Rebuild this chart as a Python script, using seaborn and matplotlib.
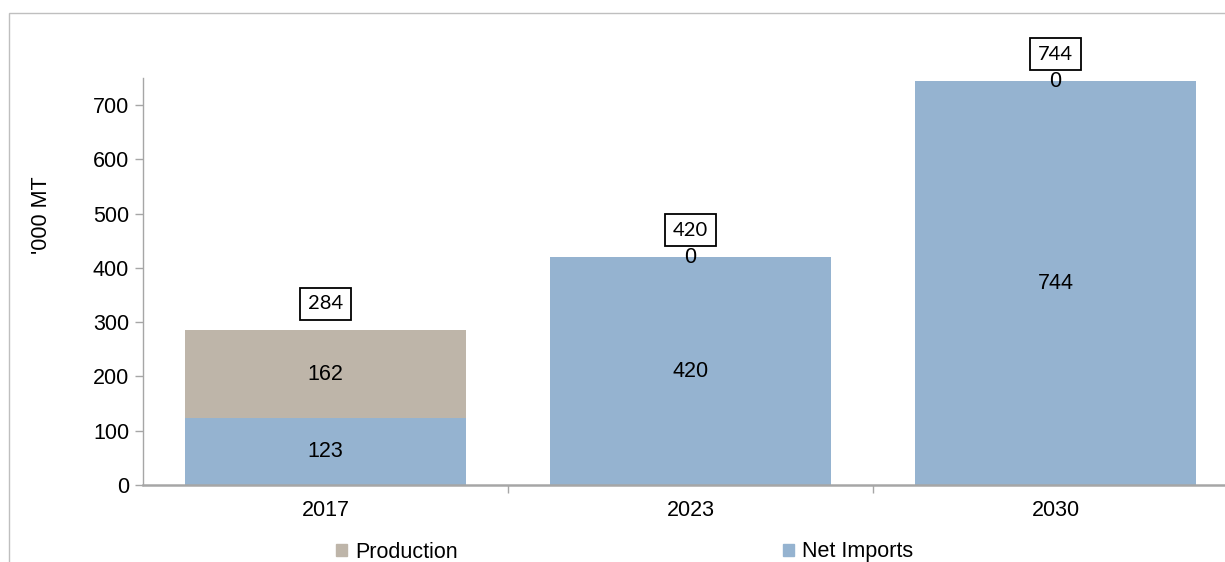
import matplotlib
matplotlib.use('Agg')
import matplotlib.pyplot as plt
import seaborn as sns
import pandas as pd
from matplotlib.patches import Rectangle, Patch

# chart values
years = ['2017', '2023', '2030']
net_imports = [123, 420, 744]
production = [162, 0, 0]
totals = [284, 420, 744]
y_ticks = [0, 100, 200, 300, 400, 500, 600, 700]

COL_IMP = '#95B3D0'
COL_PROD = '#BEB5A9'
AXIS_GRAY = '#A6A6A6'
FS = 15.5

sns.set_theme(style='white')
plt.rcParams['font.family'] = ['Liberation Sans', 'DejaVu Sans']

df = pd.DataFrame({'year': years, 'net': net_imports, 'prod': production})
df['stack'] = df['net'] + df['prod']

fig = plt.figure(figsize=(12.25, 5.62), dpi=100)
ax = fig.add_axes([143 / 1225, 1 - 485 / 562, 1095 / 1225, 407 / 562])

# stacked bars: total height in production colour, net imports drawn over it
sns.barplot(data=df, x='year', y='stack', color=COL_PROD, saturation=1,
            width=0.77, ax=ax, linewidth=0)
sns.barplot(data=df, x='year', y='net', color=COL_IMP, saturation=1,
            width=0.77, ax=ax, linewidth=0)

ax.set_xlim(-0.5, 2.5)
ax.set_ylim(0, 750)
ax.set_yticks(y_ticks)
ax.set_xlabel('')
ax.set_ylabel("'000 MT", fontsize=FS, color='black')
ax.yaxis.set_label_coords(-0.083, 0.663)

for s in ['top', 'right']:
    ax.spines[s].set_visible(False)
ax.spines['left'].set_color(AXIS_GRAY)
ax.spines['left'].set_linewidth(1.0)
ax.spines['bottom'].set_color(AXIS_GRAY)
ax.spines['bottom'].set_linewidth(1.8)

ax.tick_params(axis='y', direction='out', length=6, width=1, color=AXIS_GRAY,
               labelsize=FS, labelcolor='black', left=True, pad=4)
ax.tick_params(axis='x', which='major', length=0, labelsize=FS,
               labelcolor='black', pad=11)
ax.set_xticks([0.5, 1.5], minor=True)
ax.tick_params(axis='x', which='minor', direction='out', length=6, width=1,
               color=AXIS_GRAY, bottom=True)

# segment labels
for i in range(len(years)):
    ax.text(i, net_imports[i] / 2, str(net_imports[i]), ha='center', va='center',
            fontsize=FS, color='black')
    ax.text(i, net_imports[i] + production[i] / 2, str(production[i]),
            ha='center', va='center', fontsize=FS, color='black')
    ax.annotate(str(totals[i]), xy=(i, totals[i]), xytext=(0, 27),
                textcoords='offset pixels', ha='center', va='center',
                fontsize=14.5, family=['Lato', 'DejaVu Sans'], color='black',
                bbox=dict(boxstyle='square,pad=0.37', fc='white', ec='black', lw=1.3))

# outer frame of the chart area
fig.patches.append(Rectangle((9 / 1225, -0.1), 1.2, 1.1 - 13 / 562,
                             transform=fig.transFigure, fill=False,
                             ec='#BFBFBF', lw=1.0))

handles = [Patch(color=COL_PROD, label='Production'),
           Patch(color=COL_IMP, label='Net Imports')]
fig.legend(handles=handles, loc='center', bbox_to_anchor=(0.510, 1 - 552 / 562),
           ncol=2, frameon=False, fontsize=FS, handlelength=0.5, handleheight=0.5,
           handletextpad=0.4, columnspacing=15.1, borderaxespad=0, borderpad=0,
           labelcolor='black')

fig.savefig('out.png', dpi=100)
